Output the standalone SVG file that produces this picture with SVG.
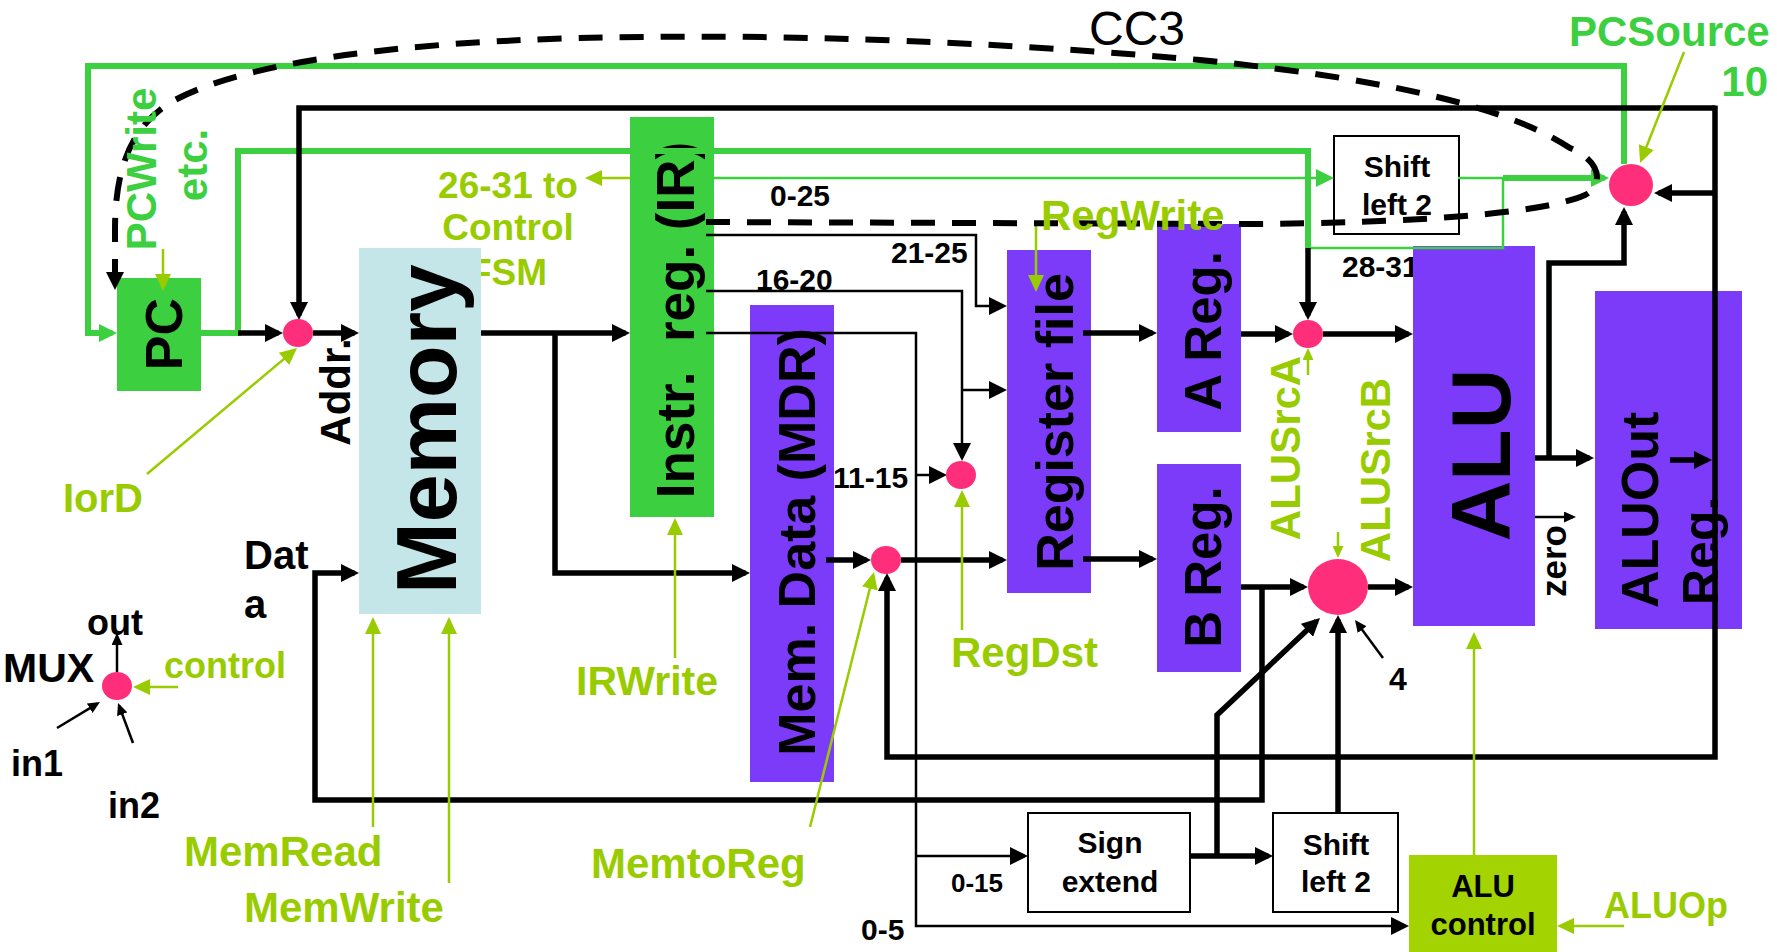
<svg xmlns="http://www.w3.org/2000/svg" width="1777" height="952" viewBox="0 0 1777 952">
<style>
text{font-family:"Liberation Sans",Arial,sans-serif;font-weight:bold;fill:#000}
.g{fill:#3CCF40}
.y{fill:#99CC00}
.reg{font-weight:normal}
.thick{stroke:#000;stroke-width:5.5;fill:none}
.thin{stroke:#000;stroke-width:2.5;fill:none}
.gthick{stroke:#3CCF40;stroke-width:6;fill:none}
.gthin{stroke:#3CCF40;stroke-width:2.5;fill:none}
.yl{stroke:#99CC00;stroke-width:2.5;fill:none}
.dash{stroke:#000;stroke-width:6;fill:none;stroke-dasharray:24 17}
.mux{fill:#FF2E7A}
.pur{fill:#7B3BF9}
.grn{fill:#3CCF40}
.wb{fill:#fff;stroke:#000;stroke-width:2}
</style>
<defs>
<marker id="ab" viewBox="0 0 18 18" refX="13.5" refY="9" markerWidth="18" markerHeight="18" markerUnits="userSpaceOnUse" orient="auto"><path d="M0,0 L18,9 L0,18z" fill="#000"/></marker>
<marker id="ag" viewBox="0 0 18 18" refX="13.5" refY="9" markerWidth="18" markerHeight="18" markerUnits="userSpaceOnUse" orient="auto"><path d="M0,0 L18,9 L0,18z" fill="#3CCF40"/></marker>
<marker id="ay" viewBox="0 0 17 16" refX="12.5" refY="8" markerWidth="17" markerHeight="16" markerUnits="userSpaceOnUse" orient="auto"><path d="M0,0 L17,8 L0,16z" fill="#99CC00"/></marker>
<marker id="sb" viewBox="0 0 12 11" refX="9" refY="5.5" markerWidth="12" markerHeight="11" markerUnits="userSpaceOnUse" orient="auto"><path d="M0,0 L12,5.5 L0,11z" fill="#000"/></marker>
<marker id="sy" viewBox="0 0 12 11" refX="9" refY="5.5" markerWidth="12" markerHeight="11" markerUnits="userSpaceOnUse" orient="auto"><path d="M0,0 L12,5.5 L0,11z" fill="#99CC00"/></marker>
</defs>
<rect width="1777" height="952" fill="#fff"/>

<!-- labels partly hidden behind boxes -->
<g id="under-labels">
<text class="y" font-size="37" text-anchor="middle" x="508" y="198">26-31 to</text>
<text class="y" font-size="37" text-anchor="middle" x="508" y="240">Control</text>
<text class="y" font-size="37" text-anchor="middle" x="508" y="285">FSM</text>
<text font-size="30" x="1342" y="277">28-31</text>
</g>

<g id="pc"><rect class="grn" x="117" y="278" width="84" height="113"/><text font-size="52" text-anchor="middle" transform="translate(182,334) rotate(-90)">PC</text></g>
<g id="memory"><rect x="359" y="248" width="122" height="366" fill="#C4E6E8"/><text font-size="86" text-anchor="middle" transform="translate(456,429) rotate(-90)">Memory</text></g>
<g id="ir"><rect class="grn" x="630" y="117" width="84" height="400"/><text font-size="53" text-anchor="middle" xml:space="preserve" transform="translate(694,320) rotate(-90)">Instr.  reg. (IR)</text></g>
<g id="mdr"><rect class="pur" x="750" y="305" width="84" height="477"/><text font-size="52" text-anchor="middle" transform="translate(815,542) rotate(-90)">Mem. Data (MDR)</text></g>
<g id="regfile"><rect class="pur" x="1007" y="250" width="84" height="343"/><text font-size="52" text-anchor="middle" transform="translate(1073,422) rotate(-90)">Register file</text></g>
<g id="areg"><rect class="pur" x="1157" y="224" width="84" height="208"/><text font-size="51" text-anchor="middle" transform="translate(1221,331) rotate(-90)">A Reg.</text></g>
<g id="breg"><rect class="pur" x="1157" y="464" width="84" height="208"/><text font-size="51" text-anchor="middle" transform="translate(1221,567) rotate(-90)">B Reg.</text></g>
<g id="alu"><rect class="pur" x="1413" y="246" width="122" height="380"/><text font-size="84" text-anchor="middle" transform="translate(1510,455) rotate(-90)">ALU</text></g>
<g id="aluout"><rect class="pur" x="1595" y="291" width="147" height="338"/><text font-size="52" transform="translate(1658,608) rotate(-90)">ALUOut</text><text font-size="50" transform="translate(1718,605) rotate(-90)">Reg.</text></g>
<g id="shift-top"><rect class="wb" x="1334" y="136" width="125" height="98"/><text font-size="30" text-anchor="middle" x="1397" y="177">Shift</text><text font-size="30" text-anchor="middle" x="1397" y="215">left 2</text></g>
<g id="signext"><rect class="wb" x="1028" y="813" width="162" height="99"/><text font-size="30" text-anchor="middle" x="1110" y="853">Sign</text><text font-size="30" text-anchor="middle" x="1110" y="892">extend</text></g>
<g id="shift-bottom"><rect class="wb" x="1273" y="813" width="125" height="99"/><text font-size="30" text-anchor="middle" x="1336" y="855">Shift</text><text font-size="30" text-anchor="middle" x="1336" y="892">left 2</text></g>
<g id="alucontrol"><rect x="1409" y="855" width="148" height="97" fill="#A3D300"/><text font-size="31" text-anchor="middle" x="1483" y="897">ALU</text><text font-size="31" text-anchor="middle" x="1483" y="935">control</text></g>

<g id="connectors">
<!-- green -->
<path class="gthick" d="M1624,164 V66 H88 V333 H112.5" marker-end="url(#ag)"/>
<path class="gthick" d="M201,333 H238 V151 H1308 V248"/>
<path class="gthin" d="M1308,248 H1503 V178"/>
<path class="gthin" d="M1458,178 H1503"/>
<path class="gthick" d="M1503,178 H1604.5" marker-end="url(#ag)"/>
<path class="gthin" d="M714,178 H1329.5" marker-end="url(#ag)"/>
<!-- black thick -->
<path class="thick" d="M238,333 H278.5" marker-end="url(#ab)"/>
<path class="thick" d="M313,333 H354.5" marker-end="url(#ab)"/>
<path class="thick" d="M1715,108 H299 V315.5" marker-end="url(#ab)"/>
<path class="thick" d="M1715,105.5 V757 H887 V577.5" marker-end="url(#ab)"/>
<path class="thick" d="M1715,193 H1658.5" marker-end="url(#ab)"/>
<path class="thick" d="M1670,460 H1707.5" marker-end="url(#ab)"/>
<path class="thick" d="M481,333 H625.5" marker-end="url(#ab)"/>
<path class="thick" d="M555,333 V573 H745.5" marker-end="url(#ab)"/>
<path class="thick" d="M1262,587 V800 H315 V573 H354.5" marker-end="url(#ab)"/>
<path class="thick" d="M826,560 H866.5" marker-end="url(#ab)"/>
<path class="thick" d="M901,560 H1002.5" marker-end="url(#ab)"/>
<path class="thick" d="M1083,333 H1152.5" marker-end="url(#ab)"/>
<path class="thick" d="M1083,559 H1152.5" marker-end="url(#ab)"/>
<path class="thick" d="M1241,334 H1288.5" marker-end="url(#ab)"/>
<path class="thick" d="M1323,334 H1408.5" marker-end="url(#ab)"/>
<path class="thick" d="M1308,248 V315.5" marker-end="url(#ab)"/>
<path class="thick" d="M1241,587 H1303.5" marker-end="url(#ab)"/>
<path class="thick" d="M1368,587 H1408.5" marker-end="url(#ab)"/>
<path class="thick" d="M1338,813 V619.5" marker-end="url(#ab)"/>
<path class="thick" d="M1190,856 H1268.5" marker-end="url(#ab)"/>
<path class="thick" d="M1217,856 V715 L1316.7,621.1" marker-end="url(#ab)"/>
<path class="thick" d="M1535,458 H1589.5" marker-end="url(#ab)"/>
<path class="thick" d="M1549,458 V263 H1624 V211.5" marker-end="url(#ab)"/>
<!-- black thin -->
<path class="thin" d="M706,235 H976 V306 H1002.5" marker-end="url(#ab)"/>
<path class="thin" d="M706,291 H962 V456.5" marker-end="url(#ab)"/>
<path class="thin" d="M962,390 H1002.5" marker-end="url(#ab)"/>
<path class="thin" d="M706,333 H916 V926 H1404.5" marker-end="url(#ab)"/>
<path class="thin" d="M916,475 H942.5" marker-end="url(#ab)"/>
<path class="thin" d="M916,856 H1023.5" marker-end="url(#ab)"/>
<path class="thin" d="M1535,517 H1573" marker-end="url(#sb)"/>
<path class="thin" d="M1383,658 L1356.8,622.4" marker-end="url(#sb)"/>
<path class="thin" d="M117,672 V636" marker-end="url(#sb)"/>
<path class="thin" d="M57,728 L97.4,703.6" marker-end="url(#sb)"/>
<path class="thin" d="M133,743 L119.1,705.8" marker-end="url(#sb)"/>
<!-- control signals -->
<path class="yl" d="M630,178 H589.5" marker-end="url(#ay)"/>
<path class="yl" d="M163,249 V286.5" marker-end="url(#ay)"/>
<path class="yl" d="M147,474 L293.6,350.9" marker-end="url(#ay)"/>
<path class="yl" d="M373,827 V621.5" marker-end="url(#ay)"/>
<path class="yl" d="M449,883 V621.5" marker-end="url(#ay)"/>
<path class="yl" d="M675,658 V522.5" marker-end="url(#ay)"/>
<path class="yl" d="M810,827 L872.9,576.4" marker-end="url(#ay)"/>
<path class="yl" d="M962,630 V494.5" marker-end="url(#ay)"/>
<path class="yl" d="M1036,222 V287.5" marker-end="url(#ay)"/>
<path class="yl" d="M1308,375 V351" marker-end="url(#sy)"/>
<path class="yl" d="M1338,532 V555" marker-end="url(#sy)"/>
<path class="yl" d="M1474,855 V636.5" marker-end="url(#ay)"/>
<path class="yl" d="M1624,926 H1561.5" marker-end="url(#ay)"/>
<path class="yl" d="M1684,52 L1641.7,158.8" marker-end="url(#ay)"/>
<path class="yl" d="M178,687 H137.5" marker-end="url(#ay)"/>
<!-- CC3 dashed -->
<path class="dash" d="M706,222 L1250,224 C1400,223 1540,215 1585,195 C1605,185 1600,160 1570,148 C1520,115 1420,82 1200,60 C1000,42 800,35 650,37 C450,38 260,55 175,100 C130,125 115,170 115,230 L115,285.5" marker-end="url(#ab)"/>
</g>

<g id="muxes">
<ellipse id="mux-iord" class="mux" cx="298" cy="333" rx="15" ry="14"/>
<ellipse id="mux-pcsource" class="mux" cx="1631" cy="185" rx="22" ry="21"/>
<ellipse id="mux-alusrca" class="mux" cx="1308" cy="334" rx="15" ry="14"/>
<ellipse id="mux-alusrcb" class="mux" cx="1338" cy="587" rx="30" ry="28"/>
<ellipse id="mux-regdst" class="mux" cx="961" cy="475" rx="15" ry="14"/>
<ellipse id="mux-memtoreg" class="mux" cx="886" cy="560" rx="15" ry="14"/>
<ellipse id="mux-legend" class="mux" cx="117" cy="686" rx="15" ry="14"/>
</g>

<g id="labels">
<text class="reg" font-size="48" text-anchor="middle" x="1137" y="45">CC3</text>
<text class="g" font-size="42" x="1569" y="46">PCSource</text>
<text class="g" font-size="42" text-anchor="end" x="1768" y="96">10</text>
<text class="g" font-size="42" text-anchor="middle" transform="translate(156,169) rotate(-90)">PCWrite</text>
<text class="g" font-size="42" text-anchor="middle" transform="translate(207,165) rotate(-90)">etc.</text>
<text class="y" font-size="42" x="1041" y="230">RegWrite</text>
<text font-size="30" x="770" y="206">0-25</text>
<text font-size="30" x="891" y="263">21-25</text>
<text font-size="30" x="756" y="290">16-20</text>
<text font-size="30" x="833" y="488">11-15</text>
<text font-size="42" text-anchor="middle" transform="translate(350,392) rotate(-90)">Addr.</text>
<text font-size="40" x="244" y="569">Dat</text>
<text font-size="40" x="244" y="618">a</text>
<text class="y" font-size="40" x="63" y="512">IorD</text>
<text font-size="41" x="3" y="682">MUX</text>
<text font-size="36" x="87" y="635">out</text>
<text class="y" font-size="36" x="164" y="678">control</text>
<text font-size="36" x="11" y="776">in1</text>
<text font-size="36" x="108" y="818">in2</text>
<text class="y" font-size="42" x="184" y="866">MemRead</text>
<text class="y" font-size="42" x="244" y="922">MemWrite</text>
<text class="y" font-size="41" x="576" y="695">IRWrite</text>
<text class="y" font-size="42" x="591" y="878">MemtoReg</text>
<text class="y" font-size="42" x="951" y="667">RegDst</text>
<text class="y" font-size="42" text-anchor="middle" transform="translate(1300,448) rotate(-90)">ALUSrcA</text>
<text class="y" font-size="42" text-anchor="middle" transform="translate(1390,470) rotate(-90)">ALUSrcB</text>
<text font-size="35" text-anchor="middle" transform="translate(1566,561) rotate(-90)">zero</text>
<text font-size="32" x="1389" y="690">4</text>
<text font-size="26" x="951" y="892">0-15</text>
<text font-size="30" x="861" y="940">0-5</text>
<text class="y" font-size="36" x="1604" y="918">ALUOp</text>
</g>
</svg>
